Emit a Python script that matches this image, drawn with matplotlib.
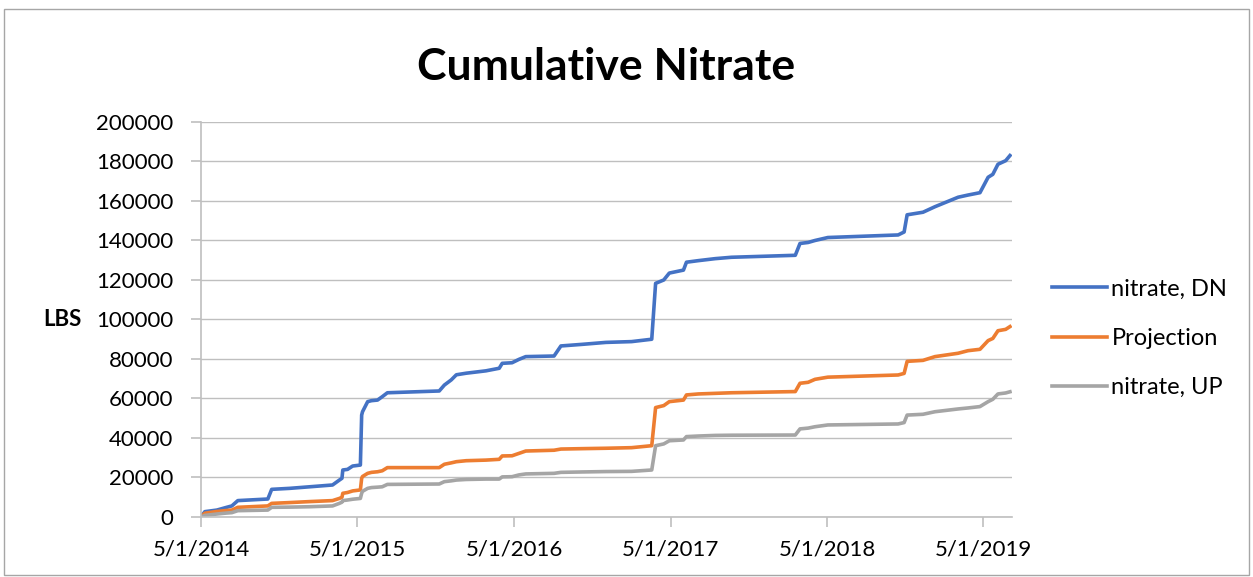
"""Cumulative nitrate loads (DN, UP and projection) over time."""

import matplotlib

matplotlib.use("Agg", force=True)
import matplotlib.pyplot as plt
import pandas as pd
from matplotlib.patches import Rectangle

dates = [
    "2014-05-01", "2014-05-10", "2014-06-07", "2014-06-30", "2014-07-12",
    "2014-07-26", "2014-10-04", "2014-10-13", "2014-11-24", "2015-01-10",
    "2015-03-04", "2015-03-20", "2015-03-26", "2015-03-28", "2015-04-08",
    "2015-04-20", "2015-05-08", "2015-05-11", "2015-05-13", "2015-05-25",
    "2015-06-03", "2015-06-17", "2015-06-28", "2015-07-10", "2015-11-08",
    "2015-11-20", "2015-12-06", "2015-12-18", "2016-01-10", "2016-02-25",
    "2016-03-27", "2016-04-03", "2016-04-26", "2016-05-12", "2016-05-28",
    "2016-08-02", "2016-08-18", "2016-10-06", "2016-12-01", "2017-01-30",
    "2017-03-18", "2017-03-27", "2017-04-15", "2017-04-28", "2017-05-31",
    "2017-06-07", "2017-07-05", "2017-08-13", "2017-09-20", "2018-02-16",
    "2018-02-27", "2018-03-18", "2018-04-03", "2018-05-03", "2018-10-14",
    "2018-10-28", "2018-11-04", "2018-12-11", "2019-01-08", "2019-03-03",
    "2019-03-26", "2019-04-23", "2019-05-12", "2019-05-23", "2019-06-04",
    "2019-06-22", "2019-07-02",
]

nitrate_dn = [
    0, 2700, 3500, 4900, 5600,
    8300, 9100, 14000, 14500, 15300,
    16200, 18700, 19600, 23800, 24100,
    25800, 26300, 51600, 53300, 58400,
    58900, 59200, 60900, 62900, 63800,
    66800, 69400, 72000, 72800, 74000,
    75300, 77800, 78100, 79800, 81200,
    81500, 86600, 87400, 88400, 88800,
    90000, 118300, 120000, 123500, 125000,
    129000, 129800, 130800, 131500, 132500,
    138500, 139000, 140000, 141500, 142800,
    144300, 153000, 154300, 157100, 161900,
    163000, 164200, 172000, 173500, 178600,
    180400, 183000,
]

projection = [
    0, 1900, 2800, 3300, 3500,
    4900, 5600, 6900, 7300, 7800,
    8300, 9400, 10000, 12000, 12400,
    13200, 13700, 19600, 20500, 22100,
    22600, 22900, 23400, 25000, 25000,
    26700, 27400, 28000, 28500, 28800,
    29200, 30900, 31000, 32200, 33400,
    33800, 34400, 34600, 34800, 35100,
    36100, 55400, 56400, 58400, 59200,
    61800, 62300, 62600, 62900, 63500,
    67700, 68200, 69700, 70800, 71900,
    72700, 78800, 79300, 81200, 82900,
    84200, 84900, 89300, 90400, 94300,
    95000, 96400,
]

nitrate_up = [
    0, 800, 1500, 2000, 2200,
    3200, 3500, 4900, 5000, 5200,
    5600, 6900, 7500, 8300, 8600,
    9000, 9400, 12000, 13000, 14500,
    14900, 15100, 15300, 16500, 16700,
    17900, 18300, 18700, 19000, 19200,
    19200, 20300, 20400, 21300, 21800,
    22100, 22600, 22800, 23000, 23100,
    23800, 36100, 37000, 38600, 39000,
    40700, 41000, 41300, 41400, 41500,
    44600, 45000, 45700, 46600, 47100,
    47800, 51600, 52000, 53300, 54700,
    55200, 55900, 58400, 59600, 62300,
    62800, 63400,
]

series = {
    "nitrate, DN": (nitrate_dn, "#4472C4"),
    "Projection": (projection, "#ED7D31"),
    "nitrate, UP": (nitrate_up, "#A5A5A5"),
}

tick_dates = ["2014-05-01", "2015-05-01", "2016-05-01", "2017-05-01", "2018-05-01", "2019-05-01"]
tick_labels = ["5/1/2014", "5/1/2015", "5/1/2016", "5/1/2017", "5/1/2018", "5/1/2019"]

plt.rcParams["font.family"] = ["Lato", "DejaVu Sans"]

fig = plt.figure(figsize=(12.53, 5.77), dpi=100)
fig.patches.append(
    Rectangle((0.003, 0.003), 0.994, 0.982, transform=fig.transFigure,
              fill=False, edgecolor="#A6A6A6", linewidth=1.0)
)
ax = fig.add_axes([0.1604, 0.1040, 0.6470, 0.6846])

x = pd.to_datetime(dates)
for label, (values, color) in series.items():
    ax.plot(x, values, color=color, linewidth=2.6, label=label, solid_joinstyle="round")

ax.set_ylim(0, 200000)
ax.set_yticks(range(0, 200001, 20000))
ax.set_xlim(pd.Timestamp("2014-05-01"), pd.Timestamp("2019-07-06"))
ax.set_xticks(pd.to_datetime(tick_dates))
ax.set_xticklabels(tick_labels)

ax.grid(axis="y", color="#BFBFBF", linewidth=1.0)
ax.set_axisbelow(True)
for side in ("top", "right"):
    ax.spines[side].set_visible(False)
for side in ("left", "bottom"):
    ax.spines[side].set_color("#BFBFBF")
    ax.spines[side].set_linewidth(1.2)
ax.tick_params(axis="both", colors="#BFBFBF", labelcolor="black", labelsize=16, length=7, width=1.2)
ax.tick_params(axis="x", pad=9)
ax.tick_params(axis="y", pad=13)

ax.set_title("Cumulative Nitrate", fontsize=32, fontweight="bold", pad=30)
ax.set_ylabel("LBS", fontsize=16, fontweight="bold", rotation=0, labelpad=24, va="center")

ax.legend(loc="center left", bbox_to_anchor=(1.024, 0.452), frameon=False, fontsize=17,
          handlelength=2.3, handletextpad=0.2, labelspacing=1.2)

fig.savefig("out.png", dpi=100)
